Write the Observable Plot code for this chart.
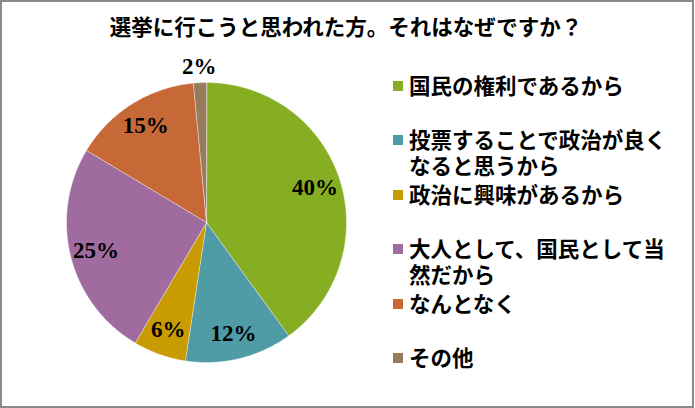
<!DOCTYPE html>
<html><head><meta charset="utf-8">
<script src="https://cdn.jsdelivr.net/npm/d3@7"></script>
<script src="https://cdn.jsdelivr.net/npm/@observablehq/plot@0.6"></script>
<style>
body{margin:0;background:#fff;}
#wrap{position:relative;width:695px;height:408px;overflow:hidden;background:#fff;font-family:"Noto Sans CJK JP",sans-serif;color:#000;}
#chart{position:absolute;left:0;top:0;}
#frame{position:absolute;left:0;top:0;width:694px;height:408px;box-sizing:border-box;border:2px solid #8a8a8a;pointer-events:none;}
#title{position:absolute;left:0;width:692px;top:12.8px;text-align:center;font-size:21.5px;line-height:26px;white-space:nowrap;font-weight:bold;}
.item{position:absolute;left:393px;width:280px;font-size:21.5px;line-height:26px;font-weight:bold;}
.sw{position:absolute;left:0;top:9.2px;width:10px;height:10px;}
.lt{margin-left:16px;width:260px;}
</style>
</head><body>
<div id="wrap">
  <div id="chart"></div>
  <div id="title"></div>
  <div id="legend"></div>
  <div id="frame"></div>
</div>
<script>
const titleText = "選挙に行こうと思われた方。それはなぜですか？";
const categories = ["国民の権利であるから","投票することで政治が良くなると思うから","政治に興味があるから","大人として、国民として当然だから","なんとなく","その他"];
const shares = [40, 12.4, 6.1, 25.1, 14.9, 1.5];
const colors = ["#86ae22","#4f9ba6","#c89b00","#a06ca0","#c76937","#967c5b"];

const rows = categories.map((c, i) => ({key: c, value: shares[i]}));
const arcs = d3.pie().sort(null).value(d => d.value)(rows);

// polygon outline of each slice on the unit circle
const slicePts = [];
for (const a of arcs) {
  slicePts.push({key: a.data.key, x: 0, y: 0});
  const n = Math.max(2, Math.ceil((a.endAngle - a.startAngle) / 0.01));
  for (let k = 0; k <= n; k++) {
    const t = a.startAngle + (a.endAngle - a.startAngle) * k / n;
    slicePts.push({key: a.data.key, x: Math.sin(t), y: Math.cos(t)});
  }
}
const labels = arcs.map(a => {
  const m = (a.startAngle + a.endAngle) / 2;
  const r = a.data.value < 3 ? 1.115 : 0.815;
  return {x: r * Math.sin(m), y: r * Math.cos(m), text: Math.round(a.data.value) + "%"};
});

const svg = Plot.plot({
  width: 695, height: 408,
  marginTop: 0, marginRight: 0, marginBottom: 0, marginLeft: 0,
  x: {domain: [-1, 1], range: [66, 346], axis: null},
  y: {domain: [-1, 1], range: [362, 82], axis: null},
  color: {domain: categories, range: colors},
  marks: [
    Plot.line(slicePts, {x: "x", y: "y", z: "key", fill: "key", stroke: "#ffffff", strokeOpacity: 0.6, strokeWidth: 0.7, curve: "linear-closed"}),
    Plot.text(labels, {x: "x", y: "y", text: "text", fontFamily: "Liberation Serif", fontWeight: "bold", fontSize: 23, fill: "#000", ariaLabel: "pct"})
  ]
});
document.getElementById("chart").appendChild(svg);

// narrow the serif percentage labels
svg.querySelectorAll('g[aria-label="pct"] text').forEach(t => {
  const tr = t.getAttribute("transform");
  if (tr) t.setAttribute("transform", tr + " scale(0.72,1)");
  else {
    const x = +t.getAttribute("x") || 0, y = +t.getAttribute("y") || 0;
    t.removeAttribute("x"); t.removeAttribute("y");
    t.setAttribute("transform", `translate(${x},${y}) scale(0.72,1)`);
  }
});

document.getElementById("title").textContent = titleText;

const legend = document.getElementById("legend");
categories.forEach((c, i) => {
  const it = document.createElement("div");
  it.className = "item";
  it.style.top = (86 + 54.5 * i - 14.2) + "px";
  const sw = document.createElement("div");
  sw.className = "sw";
  sw.style.background = colors[i];
  const lt = document.createElement("div");
  lt.className = "lt";
  lt.textContent = c;
  it.appendChild(sw); it.appendChild(lt);
  legend.appendChild(it);
});
</script>
</body></html>
